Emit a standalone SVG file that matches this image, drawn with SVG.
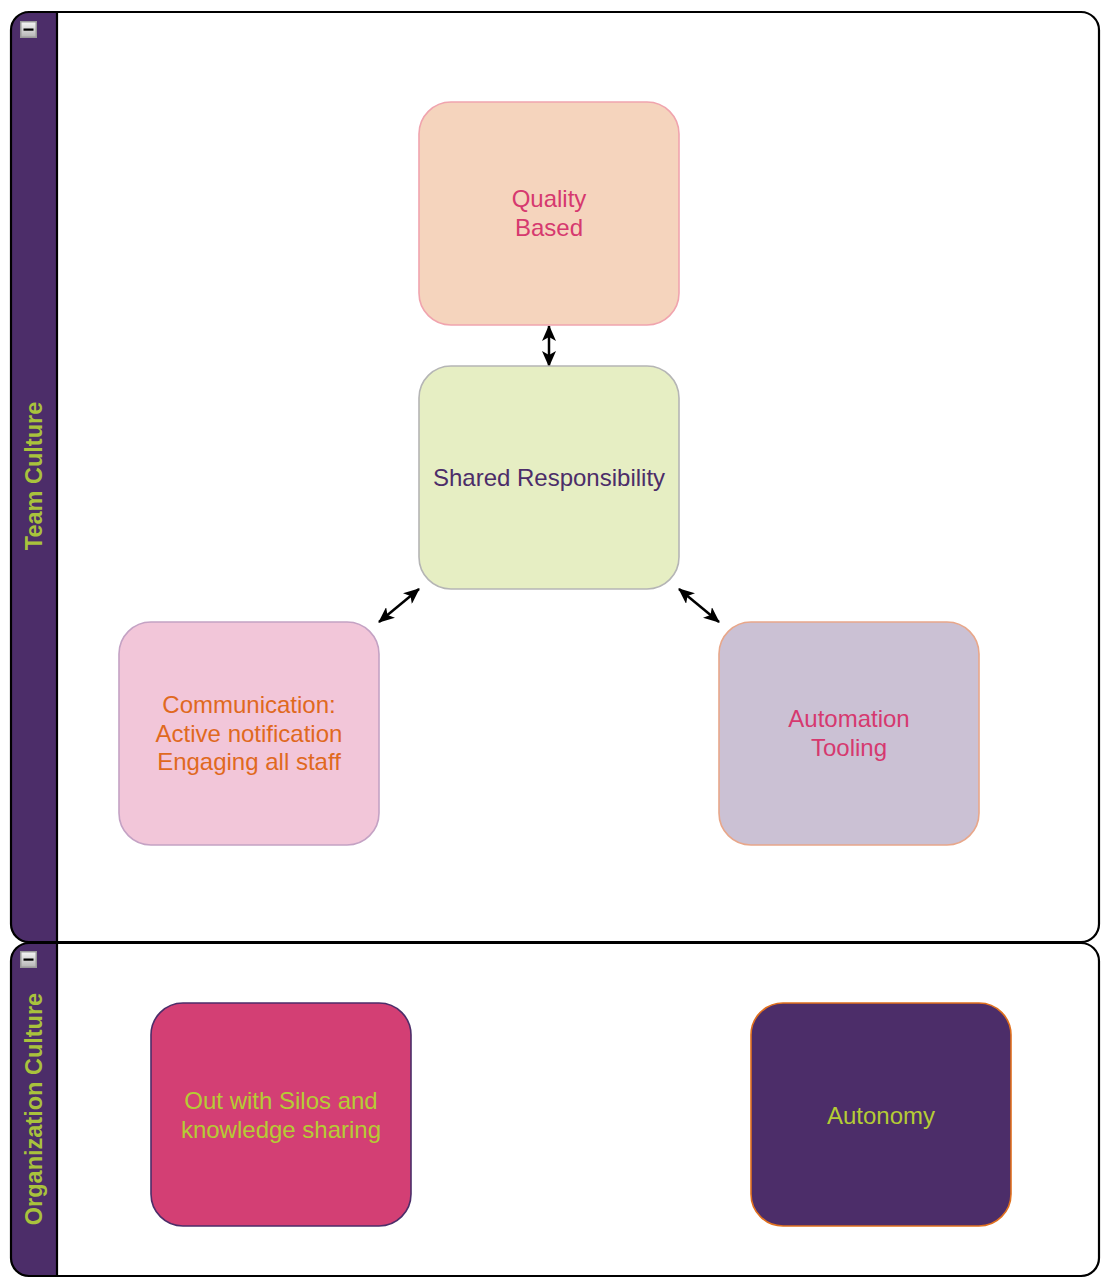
<svg xmlns="http://www.w3.org/2000/svg" width="1110" height="1284" viewBox="0 0 1110 1284">
<style>
.lbl{font-family:"Liberation Sans",Arial,Helvetica,sans-serif;font-size:24px;text-anchor:middle}
.hdr{font-family:"Liberation Sans",Arial,Helvetica,sans-serif;font-size:23.5px;font-weight:bold;fill:#A9C23C;text-anchor:middle}
.pool{fill:none;stroke:#000;stroke-width:2.2}
.head{fill:#4C2D69}
.node{stroke-width:1.6}
.edge{stroke:#000;stroke-width:2.5;fill:none;marker-start:url(#arr);marker-end:url(#arr)}
</style>
<defs>
<marker id="arr" viewBox="0 0 16 14" refX="15" refY="7" markerWidth="16" markerHeight="14" orient="auto-start-reverse" markerUnits="userSpaceOnUse">
<path d="M0,0 L16,7 L0,14 L4,7 Z" fill="#000"/>
</marker>
<linearGradient id="ig" x1="0" y1="0" x2="0" y2="1">
<stop offset="0" stop-color="#f4f4f4"/>
<stop offset="1" stop-color="#b8b8b8"/>
</linearGradient>
<g id="icon">
<rect x="0" y="0" width="17" height="17" fill="#9a9a9a"/>
<rect x="1.5" y="1.5" width="14" height="14" fill="url(#ig)"/>
<rect x="3.5" y="7.5" width="10" height="2.2" fill="#000"/>
</g>
</defs>
<rect x="0" y="0" width="1110" height="1284" fill="#fff"/>
<g id="pool-team">
<rect x="11" y="12" width="1088" height="930" rx="18" fill="#fff"/>
<path class="head" d="M57,12 L29,12 A18,18 0 0 0 11,30 L11,924 A18,18 0 0 0 29,942 L57,942 Z"/>
<rect class="pool" x="11" y="12" width="1088" height="930" rx="18"/>
<line x1="57" y1="12" x2="57" y2="942" stroke="#000" stroke-width="2.2"/>
<use href="#icon" x="20" y="21"/>
<text class="hdr" transform="translate(42,476) rotate(-90)">Team Culture</text>
</g>
<g id="pool-org">
<rect x="11" y="943" width="1088" height="333" rx="18" fill="#fff"/>
<path class="head" d="M57,943 L29,943 A18,18 0 0 0 11,961 L11,1258 A18,18 0 0 0 29,1276 L57,1276 Z"/>
<rect class="pool" x="11" y="943" width="1088" height="333" rx="18"/>
<line x1="57" y1="943" x2="57" y2="1276" stroke="#000" stroke-width="2.2"/>
<use href="#icon" x="20" y="951"/>
<text class="hdr" transform="translate(42,1109) rotate(-90)">Organization Culture</text>
</g>
<g id="connectors">
<line class="edge" x1="549" y1="326" x2="549" y2="366"/>
<line class="edge" x1="379" y1="622" x2="419" y2="589"/>
<line class="edge" x1="679" y1="589" x2="719" y2="622"/>
</g>
<g id="quality">
<rect class="node" x="419" y="102" width="260" height="223" rx="32" fill="#F5D4BD" stroke="#F0A4AE"/>
<text class="lbl" fill="#D6396F"><tspan x="549" y="207">Quality</tspan><tspan x="549" y="236">Based</tspan></text>
</g>
<g id="shared">
<rect class="node" x="419" y="366" width="260" height="223" rx="32" fill="#E6EEC3" stroke="#B5B5B5"/>
<text class="lbl" fill="#4C2D69" x="549" y="486">Shared Responsibility</text>
</g>
<g id="communication">
<rect class="node" x="119" y="622" width="260" height="223" rx="32" fill="#F2C6D9" stroke="#C4A2C4"/>
<text class="lbl" fill="#E0691E"><tspan x="249" y="713">Communication:</tspan><tspan x="249" y="742">Active notification</tspan><tspan x="249" y="770">Engaging all staff</tspan></text>
</g>
<g id="automation">
<rect class="node" x="719" y="622" width="260" height="223" rx="32" fill="#CBC1D4" stroke="#E8A78A"/>
<text class="lbl" fill="#D6396F"><tspan x="849" y="727">Automation</tspan><tspan x="849" y="756">Tooling</tspan></text>
</g>
<g id="silos">
<rect class="node" x="151" y="1003" width="260" height="223" rx="32" fill="#D33F74" stroke="#4C2D69"/>
<text class="lbl" fill="#B5CC35"><tspan x="281" y="1109">Out with Silos and</tspan><tspan x="281" y="1138">knowledge sharing</tspan></text>
</g>
<g id="autonomy">
<rect class="node" x="751" y="1003" width="260" height="223" rx="32" fill="#4C2D69" stroke="#E0701E"/>
<text class="lbl" fill="#B5CC35" x="881" y="1124">Autonomy</text>
</g>
</svg>
